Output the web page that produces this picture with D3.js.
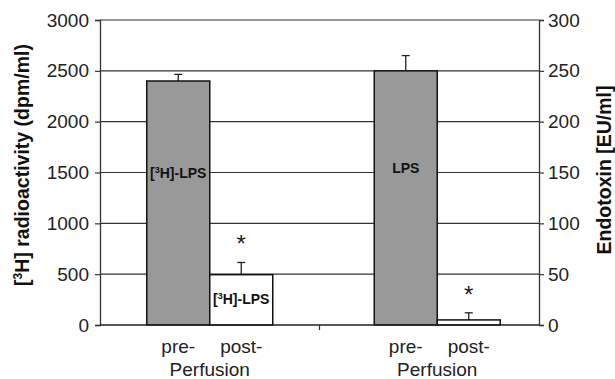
<!DOCTYPE html>
<html>
<head>
<meta charset="utf-8">
<script src="https://cdn.jsdelivr.net/npm/d3@7"></script>
<style>
  body { margin: 0; background: #fff; }
  text { font-family: "Liberation Sans", Arial, sans-serif; }
</style>
</head>
<body>
<div id="chart"></div>
<script>
// data
var groups = ["3H-LPS", "LPS"];
var phases = ["pre-", "post-"];
var radioValues = [2400, 495];      // left axis, dpm/ml
var radioErrors = [65, 120];
var endoValues = [250, 5];          // right axis, EU/ml
var endoErrors = [15, 7];
var leftTicks = [0, 500, 1000, 1500, 2000, 2500, 3000];
var rightTicks = [0, 50, 100, 150, 200, 250, 300];

var width = 615, height = 379;
var margin = { top: 20, right: 76, bottom: 54, left: 100 };
var plotW = width - margin.left - margin.right,
    plotH = height - margin.top - margin.bottom;

var svg = d3.select("#chart").append("svg")
    .attr("width", width)
    .attr("height", height);

var g = svg.append("g")
    .attr("transform", "translate(" + margin.left + "," + margin.top + ")");

// scales
var x = d3.scaleBand().domain(groups).range([0, plotW]);
var xi = d3.scaleBand().domain(phases).range([0, 126]);
var yL = d3.scaleLinear().domain([0, 3000]).range([plotH, 0]);
var yR = d3.scaleLinear().domain([0, 300]).range([plotH, 0]);
var shift = [0, 8]; // second group sits slightly right

function groupX(i) {
    return x(groups[i]) + x.bandwidth() / 2 - 63 + shift[i];
}

// gridlines
g.selectAll(".grid").data(leftTicks.slice(1)).enter().append("line")
    .attr("x1", 0).attr("x2", plotW)
    .attr("y1", function (d) { return yL(d); })
    .attr("y2", function (d) { return yL(d); })
    .attr("stroke", "#333").attr("stroke-width", 1.2);

// bars
var bars = [];
radioValues.forEach(function (v, j) {
    bars.push({ g: 0, p: phases[j], y: yL(v), yErr: yL(v + radioErrors[j]) });
});
endoValues.forEach(function (v, j) {
    bars.push({ g: 1, p: phases[j], y: yR(v), yErr: yR(v + endoErrors[j]) });
});

bars.forEach(function (b) {
    var bx = groupX(b.g) + xi(b.p);
    var cx = bx + xi.bandwidth() / 2;
    g.append("line")
        .attr("x1", cx).attr("x2", cx)
        .attr("y1", b.y).attr("y2", b.yErr)
        .attr("stroke", "#222").attr("stroke-width", 1.3);
    g.append("line")
        .attr("x1", cx - 4).attr("x2", cx + 4)
        .attr("y1", b.yErr).attr("y2", b.yErr)
        .attr("stroke", "#222").attr("stroke-width", 1.3);
    g.append("rect")
        .attr("x", bx).attr("y", b.y)
        .attr("width", xi.bandwidth()).attr("height", plotH - b.y)
        .attr("fill", b.p === "pre-" ? "#999999" : "#ffffff")
        .attr("stroke", "#111").attr("stroke-width", 1.5);
    if (b.p === "post-") {
        g.append("text")
            .attr("x", cx).attr("y", b.yErr - 10)
            .attr("text-anchor", "middle")
            .attr("font-size", 24).attr("fill", "#222")
            .text("*");
    }
});

// bar labels
function lpsLabel(cx, cy) {
    var t = g.append("text")
        .attr("x", cx).attr("y", cy)
        .attr("text-anchor", "middle")
        .attr("font-size", 14).attr("font-weight", "bold").attr("fill", "#111");
    t.append("tspan").text("[");
    t.append("tspan").attr("font-size", 9).attr("dy", -5).text("3");
    t.append("tspan").attr("dy", 5).text("H]-LPS");
}
lpsLabel(groupX(0) + xi("pre-") + xi.bandwidth() / 2, yL(1500) + 5);
lpsLabel(groupX(0) + xi("post-") + xi.bandwidth() / 2, yL(260) + 5);
g.append("text")
    .attr("x", groupX(1) + xi("pre-") + xi.bandwidth() / 2)
    .attr("y", yR(154) + 5)
    .attr("text-anchor", "middle")
    .attr("font-size", 14).attr("font-weight", "bold").attr("fill", "#111")
    .text("LPS");

// axes
var axL = g.append("g")
    .call(d3.axisLeft(yL).tickValues(leftTicks).tickFormat(d3.format("d")).tickSize(5).tickPadding(6));
var axR = g.append("g")
    .attr("transform", "translate(" + plotW + ",0)")
    .call(d3.axisRight(yR).tickValues(rightTicks).tickFormat(d3.format("d")).tickSize(5).tickPadding(4));
[axL, axR].forEach(function (a) {
    a.select(".domain").attr("stroke", "#333").attr("stroke-width", 1.3);
    a.selectAll(".tick line").attr("stroke", "#333").attr("stroke-width", 1.2);
    a.selectAll(".tick text")
        .attr("font-size", 19).attr("fill", "#222")
        .style("font-family", "Liberation Sans, Arial, sans-serif");
});

// baseline and middle tick
g.append("line")
    .attr("x1", 0).attr("x2", plotW)
    .attr("y1", plotH).attr("y2", plotH)
    .attr("stroke", "#222").attr("stroke-width", 1.5);
g.append("line")
    .attr("x1", x("LPS")).attr("x2", x("LPS"))
    .attr("y1", plotH).attr("y2", plotH + 5)
    .attr("stroke", "#333").attr("stroke-width", 1.2);

// category labels
groups.forEach(function (grp, i) {
    phases.forEach(function (p) {
        g.append("text")
            .attr("x", groupX(i) + xi(p) + xi.bandwidth() / 2)
            .attr("y", plotH + 28)
            .attr("text-anchor", "middle")
            .attr("font-size", 19).attr("fill", "#222")
            .text(p);
    });
    g.append("text")
        .attr("x", groupX(i) + 63)
        .attr("y", plotH + 51)
        .attr("text-anchor", "middle")
        .attr("font-size", 19).attr("fill", "#222")
        .text("Perfusion");
});

// axis titles
var tl = svg.append("text")
    .attr("transform", "translate(29," + (margin.top + 145) + ") rotate(-90)")
    .attr("text-anchor", "middle")
    .attr("font-size", 19.5).attr("font-weight", "bold").attr("fill", "#111");
tl.append("tspan").text("[");
tl.append("tspan").attr("font-size", 12).attr("dy", -7).text("3");
tl.append("tspan").attr("dy", 7).text("H] radioactivity (dpm/ml)");

svg.append("text")
    .attr("transform", "translate(611," + (margin.top + 150) + ") rotate(-90)")
    .attr("text-anchor", "middle")
    .attr("font-size", 19.5).attr("font-weight", "bold").attr("fill", "#111")
    .text("Endotoxin [EU/ml]");
</script>
</body>
</html>
